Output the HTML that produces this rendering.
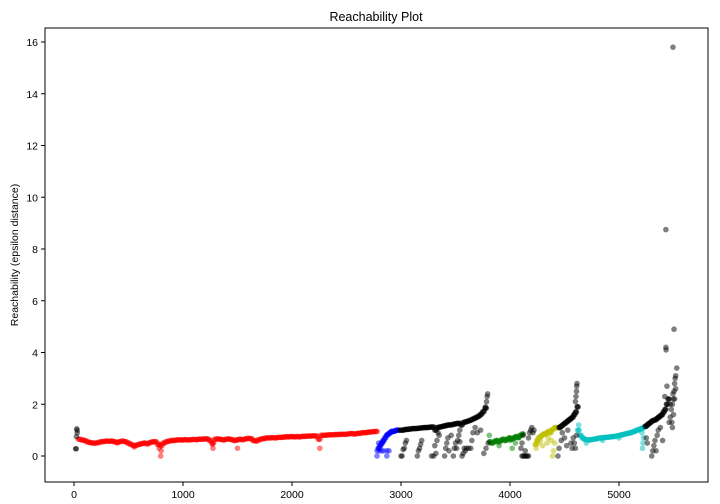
<!DOCTYPE html>
<html><head><meta charset="utf-8"><style>
body{margin:0;background:#fff;}
svg{display:block;font-family:"Liberation Sans",sans-serif;}
</style></head><body>
<svg id="chart" width="720" height="504">
<text x="376" y="21" font-size="12.5" text-anchor="middle">Reachability Plot</text>
<text transform="translate(18,255) rotate(-90)" font-size="10.5" text-anchor="middle">Reachability (epsilon distance)</text>
<g id="marks"></g>
<g id="axes"></g>
<rect x="45" y="28" width="663" height="454" fill="none" stroke="#000" stroke-width="1"/>
</svg>
<script>
const xTicks=[0,1000,2000,3000,4000,5000];
const yTicks=[0,2,4,6,8,10,12,14,16];
const redStart=40, redStep=25;
const redVals=[0.65,0.62,0.6,0.55,0.52,0.5,0.5,0.52,0.55,0.56,0.58,0.57,0.58,0.55,0.52,0.56,0.58,0.55,0.5,0.45,0.4,0.42,0.45,0.48,0.5,0.47,0.52,0.55,0.55,0.45,0.4,0.5,0.55,0.58,0.6,0.6,0.62,0.62,0.62,0.63,0.62,0.63,0.64,0.63,0.65,0.65,0.66,0.66,0.6,0.5,0.65,0.66,0.64,0.62,0.65,0.66,0.63,0.6,0.62,0.65,0.63,0.66,0.68,0.67,0.6,0.58,0.63,0.66,0.68,0.7,0.7,0.71,0.7,0.72,0.72,0.73,0.74,0.74,0.75,0.74,0.75,0.74,0.76,0.76,0.77,0.77,0.78,0.77,0.65,0.8,0.8,0.81,0.82,0.82,0.83,0.83,0.84,0.84,0.84,0.86,0.87,0.85,0.87,0.88,0.9,0.9,0.92,0.93,0.94,0.95];
const redOut=[[795,0.0],[800,0.2],[1275,0.3],[1500,0.3],[2255,0.3],[555,0.35],[1270,0.45],[780,0.3]];
const blueStart=2790, blueStep=15;
const blueVals=[0.3,0.4,0.5,0.6,0.7,0.8,0.85,0.9,0.95,0.95,0.97,1.0,1.0];
const blueOut=[[2780,0.2],[2800,0.2],[2820,0.2],[2840,0.2],[2870,0.2],[2890,0.2],[2780,0.0],[2870,0.0],[2795,0.5],[2830,0.55]];
const greenStart=3810, greenStep=20;
const greenVals=[0.55,0.5,0.55,0.6,0.55,0.6,0.65,0.6,0.65,0.7,0.65,0.7,0.75,0.72,0.8,0.85];
const greenOut=[[3810,0.8],[3900,0.4],[4000,0.6],[4020,0.3],[4050,0.5],[4080,0.7]];
const yellowStart=4230, yellowStep=15;
const yellowVals=[0.45,0.6,0.7,0.75,0.8,0.85,0.85,0.9,0.95,0.9,1.0,1.05,1.1,1.1,1.1];
const yellowOut=[[4240,0.3],[4260,0.5],[4280,0.6],[4300,0.4],[4340,0.5],[4350,0.7],[4380,0.6],[4390,0.0],[4400,0.2],[4410,0.5]];
const cyanStart=4620, cyanStep=20;
const cyanVals=[1.0,0.8,0.7,0.65,0.62,0.62,0.63,0.65,0.66,0.68,0.7,0.7,0.72,0.72,0.73,0.74,0.75,0.76,0.78,0.8,0.82,0.84,0.86,0.88,0.9,0.93,0.96,1.0,1.03,1.06,1.1,1.15];
const cyanOut=[[4630,1.2],[4700,0.5],[4850,0.6],[5000,0.7],[5210,0.9],[5220,0.5],[5215,0.3],[5225,0.7]];
const blackAStart=2990, blackAStep=20;
const blackAVals=[1.0,1.0,1.02,1.03,1.04,1.05,1.06,1.06,1.07,1.08,1.09,1.1,1.1,1.11,1.12,1.12,1.0,1.1,1.12,1.14,1.16,1.18,1.2,1.2,1.22,1.24,1.26,1.26,1.2,1.3,1.32,1.35,1.38,1.42,1.46,1.5,1.55,1.62,1.72,1.85];
const blackCStart=4450, blackCStep=15;
const blackCVals=[1.1,1.15,1.2,1.25,1.3,1.35,1.4,1.45,1.5,1.6,1.7,1.9];
const blackDStart=5240, blackDStep=15;
const blackDVals=[1.15,1.2,1.25,1.3,1.35,1.38,1.4,1.45,1.5,1.55,1.6,1.7,1.8,2.0,2.2];
const blackOut=[[15,0.28],[20,0.28],[25,1.05],[28,1.0],[30,0.9],[22,0.75],
[3785,2.1],[3790,2.3],[3795,2.4],[3775,1.9],
[3000,0.0],[3010,0.0],[3020,0.25],[3030,0.3],[3040,0.5],[3050,0.6],[3150,0.0],[3160,0.2],[3170,0.3],[3180,0.45],[3190,0.6],[3280,0.0],[3300,0.0],[3320,0.1],[3310,0.4],[3330,0.6],[3340,0.9],[3350,0.8],[3400,0.0],[3410,0.3],[3420,0.5],[3430,0.7],[3440,0.2],[3480,0.0],[3490,0.3],[3500,0.5],[3510,0.3],[3530,0.8],[3540,0.55],[3560,0.0],[3570,0.1],[3580,0.3],[3590,0.2],[3600,0.3],[3620,0.3],[3640,0.3],[3650,0.6],[3660,0.9],[3680,1.1],[3700,0.9],[3730,1.0],[3760,0.1],[3780,0.3],[3800,0.5],[3540,1.0],[3460,0.8],[3520,0.6],
[4110,0.0],[4120,0.0],[4130,0.0],[4140,0.0],[4150,0.0],[4160,0.0],[4170,0.0],[4100,0.3],[4110,0.5],[4120,0.8],[4140,0.2],[4180,0.9],[4190,1.0],[4200,1.1],[4210,0.9],[4220,1.0],[4170,0.7],
[4600,2.1],[4605,2.3],[4610,2.5],[4612,2.7],[4615,2.8],[4440,0.0],[4450,0.3],[4470,0.6],[4480,0.9],[4500,0.7],[4520,0.4],[4530,1.0],[4560,0.5],[4570,0.3],[4580,0.7],[4590,0.5],[4600,0.3],[4610,0.8],
[5300,0.0],[5310,0.2],[5320,0.4],[5330,0.6],[5250,0.7],[5260,0.5],[5340,0.2],[5350,0.8],[5360,1.0],[5380,1.1],[5400,0.6],[5430,8.75],[5430,4.2],[5432,4.1],[5495,15.8],[5505,4.9],[5420,2.3],[5440,2.7],[5460,1.3],[5470,1.5],[5480,1.8],[5490,2.0],[5500,2.2],[5505,2.5],[5510,2.8],[5515,3.0],[5520,3.1],[5530,3.4],[5500,1.6],[5490,1.1],[5485,1.3],[5510,2.2],[5520,2.6],[5470,2.0],[5495,2.4]];

const NS='http://www.w3.org/2000/svg';
const xs=v=>74+v*0.109;
const ys=v=>456-v*25.875;
const marks=document.getElementById('marks');
const axes=document.getElementById('axes');
function dot(i,v,color,name){
  const c=document.createElementNS(NS,'circle');
  c.setAttribute('cx',xs(i));c.setAttribute('cy',ys(v));c.setAttribute('r',2.8);
  c.setAttribute('fill',color);c.setAttribute('fill-opacity',0.5);
  
  
  marks.appendChild(c);
}
function series(start,step,vals,color,name){
  vals.forEach((v,k)=>{
    dot(start+k*step,v,color,name);
    dot(start+k*step+step/3,v,color,name);
    dot(start+k*step+2*step/3,v,color,name);
  });
}
function outs(arr,color,name){arr.forEach(p=>dot(p[0],p[1],color,name));}
series(redStart,redStep,redVals,'#ff0000','red-cluster-point');outs(redOut,'#ff0000','red-cluster-point');
series(blueStart,blueStep,blueVals,'#0000ff','blue-cluster-point');outs(blueOut,'#0000ff','blue-cluster-point');
series(greenStart,greenStep,greenVals,'#008000','green-cluster-point');outs(greenOut,'#008000','green-cluster-point');
series(yellowStart,yellowStep,yellowVals,'#bfbf00','yellow-cluster-point');outs(yellowOut,'#bfbf00','yellow-cluster-point');
series(cyanStart,cyanStep,cyanVals,'#00bfbf','cyan-cluster-point');outs(cyanOut,'#00bfbf','cyan-cluster-point');
series(blackAStart,blackAStep,blackAVals,'#000000','noise-point');
series(blackCStart,blackCStep,blackCVals,'#000000','noise-point');
series(blackDStart,blackDStep,blackDVals,'#000000','noise-point');
outs(blackOut,'#000000','noise-point');

xTicks.forEach(t=>{
  const l=document.createElementNS(NS,'line');
  l.setAttribute('x1',xs(t));l.setAttribute('x2',xs(t));l.setAttribute('y1',482);l.setAttribute('y2',486);l.setAttribute('stroke','#000');
  
  
  axes.appendChild(l);
  const tx=document.createElementNS(NS,'text');
  tx.setAttribute('x',xs(t));tx.setAttribute('y',498);tx.setAttribute('font-size','10.5');tx.setAttribute('text-anchor','middle');
  tx.textContent=t;
  
  
  axes.appendChild(tx);
});
yTicks.forEach(t=>{
  const l=document.createElementNS(NS,'line');
  l.setAttribute('x1',41);l.setAttribute('x2',45);l.setAttribute('y1',ys(t));l.setAttribute('y2',ys(t));l.setAttribute('stroke','#000');
  
  
  axes.appendChild(l);
  const tx=document.createElementNS(NS,'text');
  tx.setAttribute('x',38);tx.setAttribute('y',ys(t)+4);tx.setAttribute('font-size','10.5');tx.setAttribute('text-anchor','end');
  tx.textContent=t;
  
  
  axes.appendChild(tx);
});
</script>
</body></html>
